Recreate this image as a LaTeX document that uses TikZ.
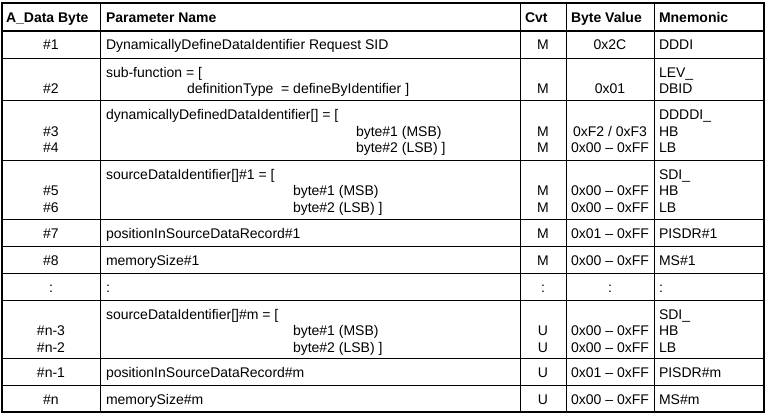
\documentclass[tikz,border=0pt]{standalone}
\usepackage{fontspec}
\setmainfont{Liberation Sans}
\usetikzlibrary{positioning}
\newcommand{\tablefont}{\fontsize{14}{16.5}\selectfont}
\newcommand{\xbyte}{51}
\newcommand{\xparam}{106}
\newcommand{\xcvt}{543}
\newcommand{\xvalue}{610}
\newcommand{\xmnem}{659}
\newcommand{\entry}[6]{% name, baseline, byte, cvt, value, mnemonic
    \node[ccell] (a#1) at (\xbyte,#2) {#3};
    \node[ccell] (c#1) at (\xcvt,#2) {#4};
    \node[ccell] (v#1) at (\xvalue,#2) {#5};
    \node[lcell] (m#1) at (\xmnem,#2) {#6};
}
\tikzset{
    common/.style={inner sep=0pt, outer sep=0pt, font=\tablefont},
    hcell/.style={common, anchor=base west, font=\tablefont\bfseries},
    lcell/.style={common, anchor=base west},
    ccell/.style={common, anchor=base},
    frame/.style={line width=2pt},
    rule/.style={line width=1pt},
}
\begin{document}
\begin{tikzpicture}[x=1pt, y=-1pt]
\useasboundingbox (0,0) rectangle (768,415);
% grid
\foreach \y in {58.5,100,160,219,246,273,300,358,385}
    \draw[rule] (2,\y) -- (764,\y);
\foreach \x in {100,520,566,654}
    \draw[rule] (\x,3) -- (\x,412);
\draw[frame] (2,30.5) -- (764,30.5);
\draw[frame] (2,3) rectangle (764,412);
% header
\node[hcell] (hbyte) at (6,22) {A\_Data Byte};
\node[hcell] (hparam) at (\xparam,22) {Parameter Name};
\node[hcell] (hcvt) at (525,22) {Cvt};
\node[hcell] (hvalue) at (571,22) {Byte Value};
\node[hcell] (hmnem) at (\xmnem,22) {Mnemonic};
% #1
\node[lcell] (p1) at (\xparam,49.5) {DynamicallyDefineDataIdentifier Request SID};
\entry{1}{49.5}{\#1}{M}{0x2C}{DDDI}
% #2
\node[lcell] (p2) at (\xparam,77) {sub-function = [};
\node[lcell] (p2b) at (187,93.5) {definitionType\ \ = defineByIdentifier ]};
\node[lcell] (m2a) at (\xmnem,77) {LEV\_};
\entry{2}{93.5}{\#2}{M}{0x01}{DBID}
% #3, #4
\node[lcell] (p3) at (\xparam,119.5) {dynamicallyDefinedDataIdentifier[] = [};
\node[lcell] (p3b) at (356,136) {byte\#1 (MSB)};
\node[lcell] (p4) at (356,152) {byte\#2 (LSB) ]};
\node[lcell] (m3a) at (\xmnem,119.5) {DDDDI\_};
\entry{3}{136}{\#3}{M}{0xF2 / 0xF3}{HB}
\entry{4}{152}{\#4}{M}{0x00 -- 0xFF}{LB}
% #5, #6
\node[lcell] (p5) at (\xparam,179) {sourceDataIdentifier[]\#1 = [};
\node[lcell] (p5b) at (293,195.5) {byte\#1 (MSB)};
\node[lcell] (p6) at (293,212) {byte\#2 (LSB) ]};
\node[lcell] (m5a) at (\xmnem,179) {SDI\_};
\entry{5}{195.5}{\#5}{M}{0x00 -- 0xFF}{HB}
\entry{6}{212}{\#6}{M}{0x00 -- 0xFF}{LB}
% #7, #8
\node[lcell] (p7) at (\xparam,238) {positionInSourceDataRecord\#1};
\entry{7}{238}{\#7}{M}{0x01 -- 0xFF}{PISDR\#1}
\node[lcell] (p8) at (\xparam,265) {memorySize\#1};
\entry{8}{265}{\#8}{M}{0x00 -- 0xFF}{MS\#1}
% :
\node[lcell] (pdots) at (\xparam,292) {:};
\entry{dots}{292}{:}{:}{:}{:}
% #n-3, #n-2
\node[lcell] (pn3) at (\xparam,319) {sourceDataIdentifier[]\#m = [};
\node[lcell] (pn3b) at (293,335.5) {byte\#1 (MSB)};
\node[lcell] (pn2) at (293,352) {byte\#2 (LSB) ]};
\node[lcell] (mn3a) at (\xmnem,319) {SDI\_};
\entry{n3}{335.5}{\#n-3}{U}{0x00 -- 0xFF}{HB}
\entry{n2}{352}{\#n-2}{U}{0x00 -- 0xFF}{LB}
% #n-1, #n
\node[lcell] (pn1) at (\xparam,377) {positionInSourceDataRecord\#m};
\entry{n1}{377}{\#n-1}{U}{0x01 -- 0xFF}{PISDR\#m}
\node[lcell] (pn) at (\xparam,404) {memorySize\#m};
\entry{n}{404}{\#n}{U}{0x00 -- 0xFF}{MS\#m}
\end{tikzpicture}
\end{document}
